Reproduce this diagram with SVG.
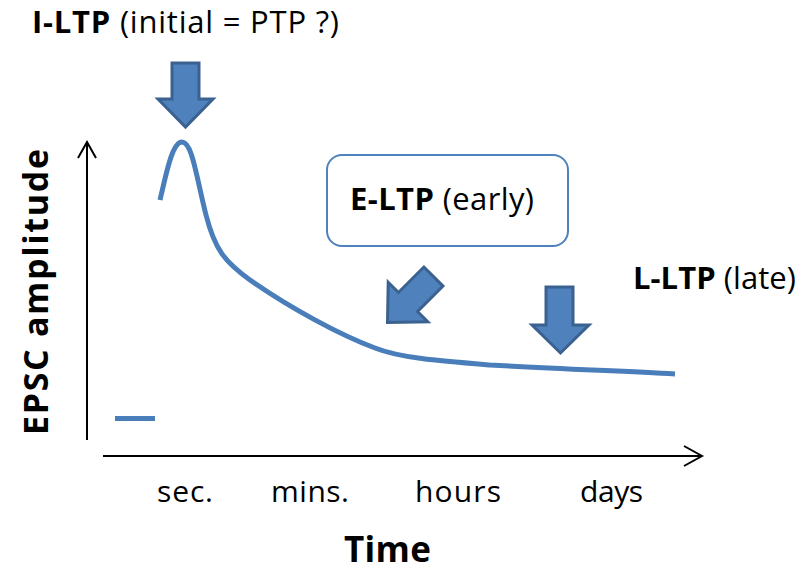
<svg xmlns="http://www.w3.org/2000/svg" width="804" height="572" viewBox="0 0 804 572">
<style>
text{font-family:"Open Sans","Noto Sans","Liberation Sans",sans-serif;fill:#000}
.b{font-weight:bold}
.lbl{font-size:31px}
.ax{font-size:30px}
.axis{stroke:#000;stroke-width:2;fill:none}
.arr{fill:#4f81bd;stroke:#3a6190;stroke-width:3;stroke-linejoin:miter}
.curve{fill:none;stroke:#4a7ebb;stroke-width:5;stroke-linecap:butt}
</style>
<rect width="804" height="572" fill="#fff"/>
<g id="axes">
<path class="axis" d="M87,440 V143 M78,158 L87,142 L96,158"/>
<path class="axis" d="M103,456 H701 M684,446 L702,456 L684,466"/>
</g>
<g id="connectors">
<path class="curve" d="M160,200 C166,175 172,142 182,142 C192,142 196,175 206,215 C215,250 225,262 250,280 C290,308 340,335 375,348 C400,358 440,361 490,365 C560,369 620,371 675,374"/>
<path class="curve" d="M115,418.5 H155"/>
</g>
<g id="arrow-iltp">
<polygon class="arr" points="172,63 199,63 199,99 213,99 185.5,127 158,99 172,99"/>
</g>
<g id="arrow-eltp">
<polygon class="arr" transform="translate(408,302) rotate(45)" points="-13.5,-36 13.5,-36 13.5,0 28,0 0,29 -28,0 -13.5,0"/>
</g>
<g id="arrow-lltp">
<polygon class="arr" points="546,287 573,287 573,325 589,325 560.5,353 532,325 546,325"/>
</g>
<g id="label-iltp">
<text class="lbl" x="32" y="33" textLength="307" lengthAdjust="spacing"><tspan class="b">I-LTP</tspan> (initial = PTP ?)</text>
</g>
<g id="box-eltp">
<rect x="327" y="155" width="241" height="91" rx="15" fill="#fff" stroke="#4f81bd" stroke-width="2"/>
<text class="lbl" x="350" y="210" textLength="184" lengthAdjust="spacing"><tspan class="b">E-LTP</tspan> (early)</text>
</g>
<g id="label-lltp">
<text class="lbl" x="633" y="289" textLength="163" lengthAdjust="spacing"><tspan class="b">L-LTP</tspan> (late)</text>
</g>
<g id="xlabels">
<text class="ax" x="157" y="502" textLength="56" lengthAdjust="spacing">sec.</text>
<text class="ax" x="271" y="502" textLength="78" lengthAdjust="spacing">mins.</text>
<text class="ax" x="415" y="502" textLength="86" lengthAdjust="spacing">hours</text>
<text class="ax" x="580" y="502" textLength="63" lengthAdjust="spacing">days</text>
<text class="b" x="344" y="562" font-size="35" textLength="87" lengthAdjust="spacing">Time</text>
</g>
<g id="ylabel">
<text class="b" font-size="34" text-anchor="middle" transform="translate(48,292) rotate(-90)" textLength="286" lengthAdjust="spacing">EPSC amplitude</text>
</g>
</svg>
